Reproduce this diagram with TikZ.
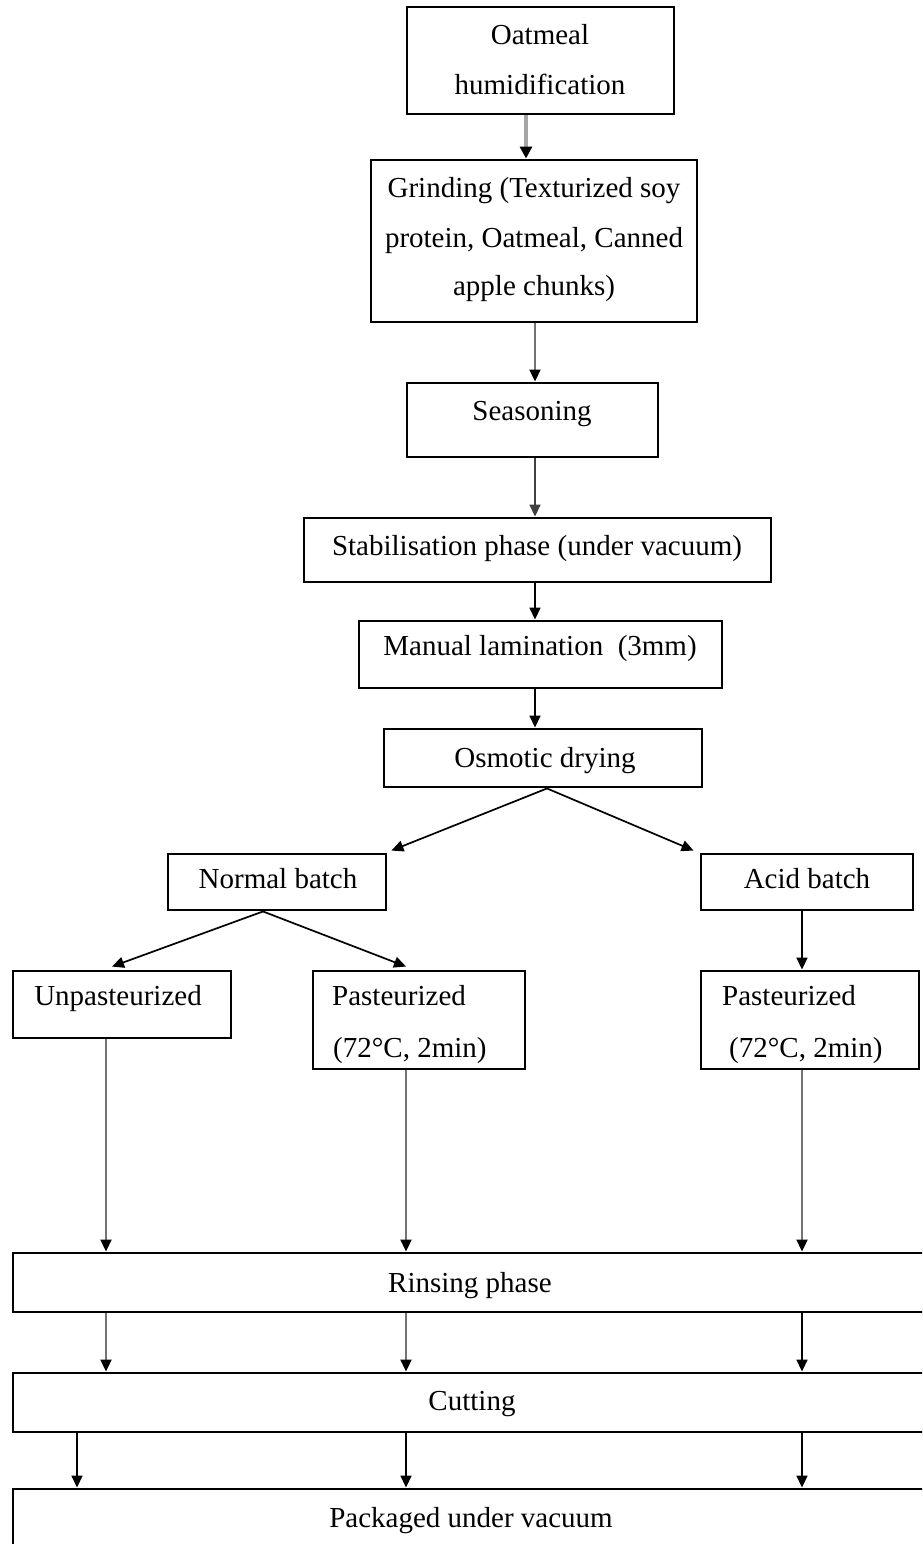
\documentclass[tikz,border=0pt]{standalone}
\usepackage{fontspec}
\setmainfont{Liberation Serif}
\usetikzlibrary{arrows.meta}
\begin{document}
\begin{tikzpicture}[x=1pt,y=-1pt,
  box/.style={draw=black, line width=2.9pt, rectangle, inner sep=0pt},
  txt/.style={inner sep=0pt, anchor=base, font=\fontsize{29}{34}\selectfont},
  txtw/.style={txt, anchor=base west},
  arr/.style={draw=black, line width=1.7pt, -{Triangle[length=12pt,width=11pt]}},
  garr/.style={draw=black!55, line width=1.9pt, -{Triangle[length=12pt,width=11pt,color=black]}},
  warr/.style={draw=black!35, line width=3.4pt, -{Triangle[length=12pt,width=12pt,color=black]}}]
\clip (0,0) rectangle (922,1544);
\fill[white] (0,0) rectangle (922,1544);

% process boxes
\node[box, minimum width=267pt, minimum height=107pt] (oat)   at (540.5,60.5) {};
\node[box, minimum width=326pt, minimum height=162pt] (grind) at (534,241) {};
\node[box, minimum width=251pt, minimum height=74pt]  (seas)  at (532.5,420) {};
\node[box, minimum width=467pt, minimum height=64pt]  (stab)  at (537.5,550) {};
\node[box, minimum width=363pt, minimum height=67pt]  (lam)   at (540.5,654.5) {};
\node[box, minimum width=318pt, minimum height=58pt]  (osm)   at (543,758) {};
\node[box, minimum width=218pt, minimum height=56pt]  (norm)  at (277,882) {};
\node[box, minimum width=212pt, minimum height=56pt]  (acid)  at (807,882) {};
\node[box, minimum width=218pt, minimum height=67pt]  (unp)   at (122,1004.5) {};
\node[box, minimum width=212pt, minimum height=98pt]  (pasl)  at (419,1020) {};
\node[box, minimum width=218pt, minimum height=98pt]  (pasr)  at (810,1020) {};
\node[box, minimum width=927pt, minimum height=59pt]  (rins)  at (476.5,1282.5) {};
\node[box, minimum width=927pt, minimum height=59pt]  (cut)   at (476.5,1402.5) {};
\node[box, minimum width=927pt, minimum height=81pt]  (pack)  at (476.5,1529.5) {};

% box texts
\node[txt] (oat1) at (540,45) {Oatmeal};
\node[txt] (oat2) at (540,95) {humidification};
\node[txt] (gr1) at (534,197) {Grinding (Texturized soy};
\node[txt] (gr2) at (534,247) {protein, Oatmeal, Canned};
\node[txt] (gr3) at (534,295) {apple chunks)};
\node[txt] (seast) at (532,420) {Seasoning};
\node[txt] (stabt) at (537,555) {Stabilisation phase (under vacuum)};
\node[txt] (lamt) at (540,655) {Manual lamination\ \ (3mm)};
\node[txt] (osmt) at (545,767) {Osmotic drying};
\node[txt] (normt) at (278,888) {Normal batch};
\node[txt] (acidt) at (807,888) {Acid batch};
\node[txt] (unpt) at (118,1005) {Unpasteurized};
\node[txtw] (pasl1) at (332,1005) {Pasteurized};
\node[txtw] (pasl2) at (333,1057) {(72°C, 2min)};
\node[txtw] (pasr1) at (722,1005) {Pasteurized};
\node[txtw] (pasr2) at (729,1057) {(72°C, 2min)};
\node[txt] (rinst) at (470,1292) {Rinsing phase};
\node[txt] (cutt) at (472,1410) {Cutting};
\node[txt] (packt) at (471,1527) {Packaged under vacuum};

% column positions of the vertical connectors
\coordinate (c0) at (77,0);
\coordinate (c1) at (106,0);
\coordinate (c2) at (406,0);
\coordinate (c3) at (802,0);
\coordinate (cm) at (526,0);
\coordinate (cn) at (535,0);

% main line
\draw[warr] (oat.south -| cm) -- (grind.north -| cm);
\draw[garr] (grind.south -| cn) -- (seas.north -| cn);
\draw[arr, draw=black!75] (seas.south -| cn) -- (stab.north -| cn);
\draw[arr] (stab.south -| cn) -- (lam.north -| cn);
\draw[arr] (lam.south -| cn) -- (osm.north -| cn);

% branching
\draw[arr] ([xshift=4pt]osm.south) -- ([xshift=4pt,yshift=2pt]norm.north east);
\draw[arr] ([xshift=4pt]osm.south) -- ([xshift=-6pt,yshift=2pt]acid.north west);
\draw[arr] ([xshift=-14pt]norm.south) -- ([xshift=-10pt,yshift=3pt]unp.north);
\draw[arr] ([xshift=-14pt]norm.south) -- ([xshift=-13pt,yshift=3pt]pasl.north);
\draw[arr] (acid.south -| c3) -- (pasr.north -| c3);

% to rinsing
\draw[garr] (unp.south -| c1) -- (rins.north -| c1);
\draw[garr] (pasl.south -| c2) -- (rins.north -| c2);
\draw[garr] (pasr.south -| c3) -- (rins.north -| c3);

% to cutting
\draw[garr] (rins.south -| c1) -- (cut.north -| c1);
\draw[garr] (rins.south -| c2) -- (cut.north -| c2);
\draw[arr] (rins.south -| c3) -- (cut.north -| c3);

% to packaging
\draw[arr] (cut.south -| c0) -- (pack.north -| c0);
\draw[arr] (cut.south -| c2) -- (pack.north -| c2);
\draw[arr] (cut.south -| c3) -- (pack.north -| c3);
\end{tikzpicture}
\end{document}
